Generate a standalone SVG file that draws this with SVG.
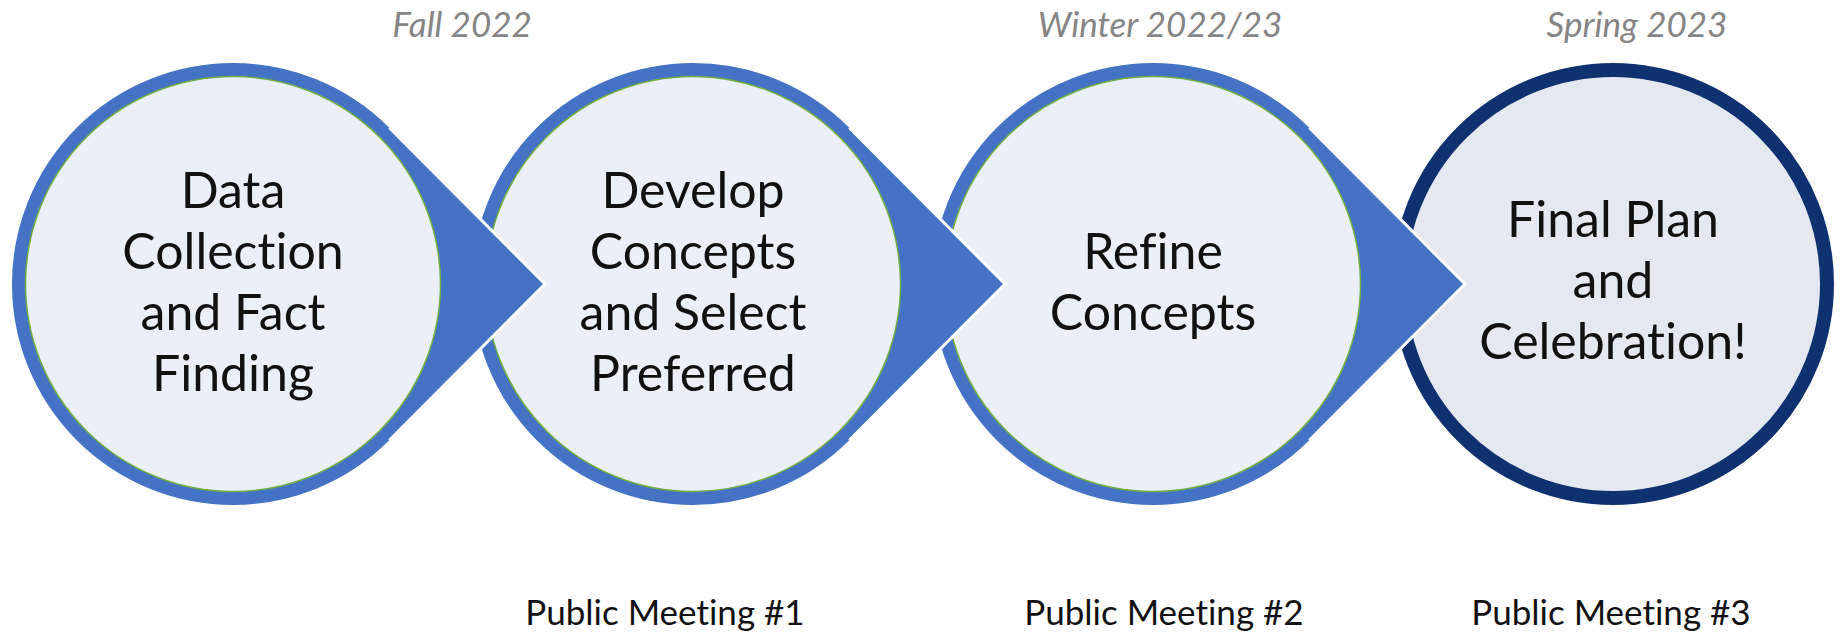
<svg xmlns="http://www.w3.org/2000/svg" width="1845" height="634" viewBox="0 0 1845 634">
<style>
.ring{fill:none;stroke:#4472C4;stroke-width:14}
.inner{fill:#EAEFF8;stroke:#70AD47;stroke-width:1.5}
.ring4{fill:#E4E8F0;stroke:#0F3170;stroke-width:14}
.tip{fill:#4472C4;stroke:none}
.edge{fill:none;stroke:#FFFFFF;stroke-width:3;stroke-linejoin:miter}
text{font-variant-ligatures:none;font-feature-settings:"liga" 0}
.lbl{font-family:Lato,"Liberation Sans",sans-serif;font-size:50px;fill:#111111;text-anchor:middle}
.when{font-family:Lato,"Liberation Sans",sans-serif;font-size:35px;font-style:italic;fill:#858585;text-anchor:middle}
.meet{font-family:Lato,"Liberation Sans",sans-serif;font-size:35px;fill:#111111;text-anchor:middle}
</style>
<rect width="1845" height="634" fill="#FFFFFF"/>
<g id="node4">
<circle class="ring4" cx="1613" cy="284" r="214"/>
<text class="lbl"><tspan x="1613" y="237">Final Plan</tspan><tspan x="1613" y="298">and</tspan><tspan x="1613" y="359">Celebration!</tspan></text>
</g>
<g id="node3">
<circle class="ring" cx="1153" cy="284" r="214"/>
<circle class="inner" cx="1153" cy="284" r="207.5"/>
<text class="lbl"><tspan x="1153" y="269">Refine</tspan><tspan x="1153" y="330">Concepts</tspan></text>
</g>
<g id="node2">
<circle class="ring" cx="693" cy="284" r="214"/>
<circle class="inner" cx="693" cy="284" r="207.5"/>
<text class="lbl"><tspan x="693" y="208">Develop</tspan><tspan x="693" y="269">Concepts</tspan><tspan x="693" y="330">and Select</tspan><tspan x="693" y="391">Preferred</tspan></text>
</g>
<g id="node1">
<circle class="ring" cx="233" cy="284" r="214"/>
<circle class="inner" cx="233" cy="284" r="207.5"/>
<text class="lbl"><tspan x="233" y="208">Data</tspan><tspan x="233" y="269">Collection</tspan><tspan x="233" y="330">and Fact</tspan><tspan x="233" y="391">Finding</tspan></text>
</g>
<g id="connectors">
<path class="tip" d="M1465 284 L1309.3 127.7 L1305.7 131.3 A216 216 0 0 1 1305.7 436.7 L1309.3 440.3 Z"/>
<polyline class="edge" points="1309.3,127.7 1465,284 1309.3,440.3"/>
<path class="tip" d="M1005 284 L849.3 127.7 L845.7 131.3 A216 216 0 0 1 845.7 436.7 L849.3 440.3 Z"/>
<polyline class="edge" points="849.3,127.7 1005,284 849.3,440.3"/>
<path class="tip" d="M545 284 L389.3 127.7 L385.7 131.3 A216 216 0 0 1 385.7 436.7 L389.3 440.3 Z"/>
<polyline class="edge" points="389.3,127.7 545,284 389.3,440.3"/>
</g>
<g id="labels">
<text class="when" x="462" y="37">Fall 2022</text>
<text class="when" x="1160" y="37">Winter 2022/23</text>
<text class="when" x="1637" y="37">Spring 2023</text>
<text class="meet" x="665" y="625">Public Meeting #1</text>
<text class="meet" x="1164" y="625">Public Meeting #2</text>
<text class="meet" x="1611" y="625">Public Meeting #3</text>
</g>
</svg>
